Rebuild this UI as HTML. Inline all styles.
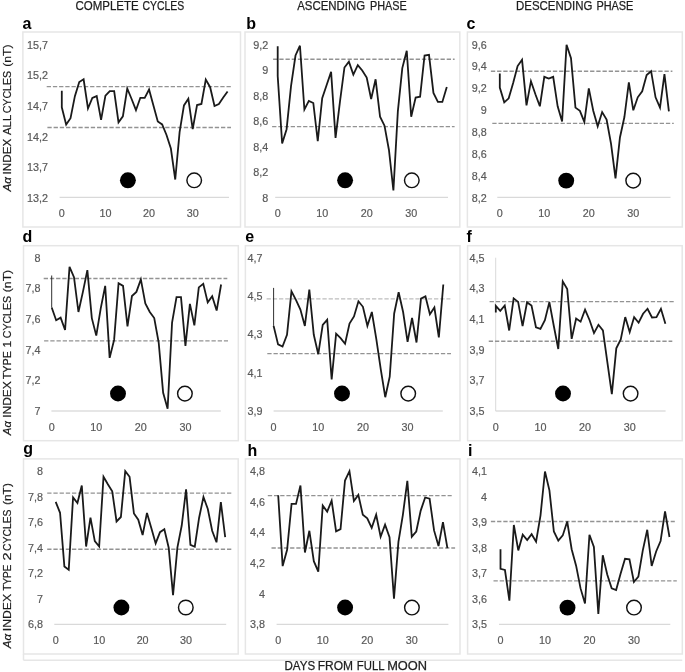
<!DOCTYPE html>
<html><head><meta charset="utf-8"><title>Aa index lunar cycles</title>
<style>
html,body{margin:0;padding:0;background:#fff;}
body{width:685px;height:672px;overflow:hidden;}
svg{display:block;filter:blur(0.3px);}
text{font-family:"Liberation Sans", sans-serif;}
.let{font-size:16px;font-weight:bold;fill:#000;}
.yl{font-size:11.6px;fill:#595959;stroke:#595959;stroke-width:0.2px;text-anchor:end;}
.xl{font-size:11.6px;fill:#595959;stroke:#595959;stroke-width:0.2px;text-anchor:middle;}
.ttl{font-size:12px;fill:#1e1e1e;stroke:#1e1e1e;stroke-width:0.25px;}
.yt{font-size:11.6px;fill:#1a1a1a;stroke:#1a1a1a;stroke-width:0.2px;}
</style></head><body>
<svg width="685" height="672" viewBox="0 0 685 672">
<rect width="685" height="672" fill="#fff"/>

<line x1="23.5" y1="660.2" x2="682.3" y2="660.2" stroke="#e6e6e6" stroke-width="1.5"/>
<line x1="23.5" y1="654" x2="23.5" y2="660.2" stroke="#e6e6e6" stroke-width="1.5"/>
<text x="75.5" y="10.3" class="ttl" textLength="63.2" lengthAdjust="spacingAndGlyphs">COMPLETE</text>
<text x="142.4" y="10.3" class="ttl" textLength="41.8" lengthAdjust="spacingAndGlyphs">CYCLES</text>
<text x="297.2" y="10.3" class="ttl" textLength="67.9" lengthAdjust="spacingAndGlyphs">ASCENDING</text>
<text x="369.9" y="10.3" class="ttl" textLength="36.8" lengthAdjust="spacingAndGlyphs">PHASE</text>
<text x="516" y="10.3" class="ttl" textLength="76.35" lengthAdjust="spacingAndGlyphs">DESCENDING</text>
<text x="596.4" y="10.3" class="ttl" textLength="37" lengthAdjust="spacingAndGlyphs">PHASE</text>
<rect x="22.9" y="32" width="217.6" height="195" fill="#fff" stroke="#e6e6e6" stroke-width="1.5"/>
<text x="22.6" y="28.6" class="let">a</text>
<text transform="translate(48,48.5) scale(0.93,1)" class="yl">15,7</text>
<text transform="translate(48,79.2) scale(0.93,1)" class="yl">15,2</text>
<text transform="translate(48,109.9) scale(0.93,1)" class="yl">14,7</text>
<text transform="translate(48,140.6) scale(0.93,1)" class="yl">14,2</text>
<text transform="translate(48,171.3) scale(0.93,1)" class="yl">13,7</text>
<text transform="translate(48,202) scale(0.93,1)" class="yl">13,2</text>
<line x1="59.6" y1="197.4" x2="229" y2="197.4" stroke="#d9d9d9" stroke-width="1.2"/>
<text transform="translate(61.8,217.4) scale(0.93,1)" class="xl">0</text>
<text transform="translate(105.43,217.4) scale(0.93,1)" class="xl">10</text>
<text transform="translate(149.06,217.4) scale(0.93,1)" class="xl">20</text>
<text transform="translate(192.69,217.4) scale(0.93,1)" class="xl">30</text>
<line x1="46.7" y1="86.6" x2="231" y2="86.6" stroke="#939393" stroke-width="1.35" stroke-dasharray="4.3 1.9"/>
<line x1="47.4" y1="127.5" x2="231" y2="127.5" stroke="#939393" stroke-width="1.35" stroke-dasharray="4.3 1.9"/>
<polyline points="61.8,90.8 61.8,107.3 66.16,124.6 70.53,118.2 74.89,96.2 79.25,82 83.61,79.3 87.98,108.5 92.34,98 96.7,96.1 101.07,119.8 105.43,95.7 109.79,91.1 114.16,91.1 118.52,122.4 122.88,116.4 127.25,88.5 131.61,99 135.97,110.2 140.33,97.8 144.7,97.8 149.06,89.5 153.42,105.5 157.79,121.5 162.15,124.4 166.51,135 170.88,148.5 175.24,179.5 179.6,132.1 183.96,105.4 188.33,98.8 192.69,129.2 197.05,105 201.42,104 205.78,79.5 210.14,87.2 214.5,106 218.87,104 223.23,97.5 227.59,91.5" fill="none" stroke="#1a1a1a" stroke-width="1.8" stroke-linejoin="miter" stroke-miterlimit="4"/>
<circle cx="127.9" cy="180.3" r="7.95" fill="#000"/>
<circle cx="194.2" cy="180.3" r="7.3" fill="#fff" stroke="#111" stroke-width="1.45"/>
<rect x="245" y="32" width="214.8" height="195" fill="#fff" stroke="#e6e6e6" stroke-width="1.5"/>
<text x="246.2" y="28.7" class="let">b</text>
<text transform="translate(268.3,48.5) scale(0.93,1)" class="yl">9,2</text>
<text transform="translate(268.3,74.08) scale(0.93,1)" class="yl">9</text>
<text transform="translate(268.3,99.67) scale(0.93,1)" class="yl">8,8</text>
<text transform="translate(268.3,125.25) scale(0.93,1)" class="yl">8,6</text>
<text transform="translate(268.3,150.83) scale(0.93,1)" class="yl">8,4</text>
<text transform="translate(268.3,176.42) scale(0.93,1)" class="yl">8,2</text>
<text transform="translate(268.3,202) scale(0.93,1)" class="yl">8</text>
<line x1="275.2" y1="197.4" x2="448" y2="197.4" stroke="#d9d9d9" stroke-width="1.2"/>
<text transform="translate(277.7,217.4) scale(0.93,1)" class="xl">0</text>
<text transform="translate(322.2,217.4) scale(0.93,1)" class="xl">10</text>
<text transform="translate(366.7,217.4) scale(0.93,1)" class="xl">20</text>
<text transform="translate(411.2,217.4) scale(0.93,1)" class="xl">30</text>
<line x1="273.1" y1="59.2" x2="454.6" y2="59.2" stroke="#939393" stroke-width="1.35" stroke-dasharray="4.3 1.9"/>
<line x1="272.1" y1="126.6" x2="454.6" y2="126.6" stroke="#939393" stroke-width="1.35" stroke-dasharray="4.3 1.9"/>
<polyline points="277.7,46.2 277.7,76 282.15,143.4 286.6,129.2 291.05,85.8 295.5,55.5 299.95,45.7 304.4,109.5 308.85,100.9 313.3,103 317.75,141.1 322.2,98.1 326.65,85 331.1,71.9 335.55,137.9 340,101.4 344.45,67.5 348.9,61.6 353.35,74.6 357.8,65.2 362.25,70.5 366.7,77.6 371.15,99 375.6,79.3 380.05,116.7 384.5,125.7 388.95,150 393.4,190.5 397.85,111.4 402.3,68.1 406.75,50.7 411.2,116.7 415.65,97.6 420.1,96.7 424.55,55.5 429,54.8 433.45,92.9 437.9,101.9 442.35,101.9 446.8,87.1" fill="none" stroke="#1a1a1a" stroke-width="1.8" stroke-linejoin="miter" stroke-miterlimit="4"/>
<circle cx="345.1" cy="180.3" r="7.95" fill="#000"/>
<circle cx="411.8" cy="180.3" r="7.3" fill="#fff" stroke="#111" stroke-width="1.45"/>
<rect x="467.4" y="32" width="214.9" height="195" fill="#fff" stroke="#e6e6e6" stroke-width="1.5"/>
<text x="466.6" y="28.7" class="let">c</text>
<text transform="translate(486.8,48.5) scale(0.93,1)" class="yl">9,6</text>
<text transform="translate(486.8,70.43) scale(0.93,1)" class="yl">9,4</text>
<text transform="translate(486.8,92.36) scale(0.93,1)" class="yl">9,2</text>
<text transform="translate(486.8,114.29) scale(0.93,1)" class="yl">9</text>
<text transform="translate(486.8,136.21) scale(0.93,1)" class="yl">8,8</text>
<text transform="translate(486.8,158.14) scale(0.93,1)" class="yl">8,6</text>
<text transform="translate(486.8,180.07) scale(0.93,1)" class="yl">8,4</text>
<text transform="translate(486.8,202) scale(0.93,1)" class="yl">8,2</text>
<line x1="497.3" y1="197.4" x2="670.5" y2="197.4" stroke="#d9d9d9" stroke-width="1.2"/>
<text transform="translate(499.8,217.4) scale(0.93,1)" class="xl">0</text>
<text transform="translate(544.3,217.4) scale(0.93,1)" class="xl">10</text>
<text transform="translate(588.8,217.4) scale(0.93,1)" class="xl">20</text>
<text transform="translate(633.3,217.4) scale(0.93,1)" class="xl">30</text>
<line x1="490.9" y1="71.25" x2="672.4" y2="71.25" stroke="#939393" stroke-width="1.35" stroke-dasharray="4.3 1.9"/>
<line x1="492.3" y1="123.3" x2="673.75" y2="123.3" stroke="#939393" stroke-width="1.35" stroke-dasharray="4.3 1.9"/>
<polyline points="499.8,73.5 499.8,87.5 504.25,102.3 508.7,98.3 513.15,82.9 517.6,66.1 522.05,59.8 526.5,105.4 530.95,81.2 535.4,94.2 539.85,106.3 544.3,76.8 548.75,78.6 553.2,76.8 557.65,106.3 562.1,121.4 566.55,44.7 571,58.1 575.45,107.6 579.9,110.9 584.35,121.9 588.8,88.4 593.25,110.7 597.7,126.3 602.15,112.1 606.6,119.6 611.05,143.8 615.5,178.3 619.95,137.5 624.4,117 628.85,82.4 633.3,110.3 637.75,97.3 642.2,91.3 646.65,75 651.1,71.2 655.55,97.3 660,107.6 664.45,74.1 668.9,111.4" fill="none" stroke="#1a1a1a" stroke-width="1.8" stroke-linejoin="miter" stroke-miterlimit="4"/>
<circle cx="566.2" cy="180.6" r="7.95" fill="#000"/>
<circle cx="633.2" cy="180.6" r="7.3" fill="#fff" stroke="#111" stroke-width="1.45"/>
<rect x="23.5" y="245.7" width="214.8" height="195" fill="#fff" stroke="#e6e6e6" stroke-width="1.5"/>
<text x="22.6" y="242" class="let">d</text>
<text transform="translate(40.5,261.7) scale(0.93,1)" class="yl">8</text>
<text transform="translate(40.5,292.32) scale(0.93,1)" class="yl">7,8</text>
<text transform="translate(40.5,322.94) scale(0.93,1)" class="yl">7,6</text>
<text transform="translate(40.5,353.56) scale(0.93,1)" class="yl">7,4</text>
<text transform="translate(40.5,384.18) scale(0.93,1)" class="yl">7,2</text>
<text transform="translate(40.5,414.8) scale(0.93,1)" class="yl">7</text>
<line x1="51.4" y1="411" x2="220.8" y2="411" stroke="#e6e6e6" stroke-width="2"/>
<text transform="translate(51.7,431) scale(0.93,1)" class="xl">0</text>
<text transform="translate(96.28,431) scale(0.93,1)" class="xl">10</text>
<text transform="translate(140.86,431) scale(0.93,1)" class="xl">20</text>
<text transform="translate(185.44,431) scale(0.93,1)" class="xl">30</text>
<line x1="43.7" y1="278.5" x2="227.3" y2="278.5" stroke="#939393" stroke-width="1.35" stroke-dasharray="4.3 1.9"/>
<line x1="44.1" y1="340.9" x2="228" y2="340.9" stroke="#939393" stroke-width="1.35" stroke-dasharray="4.3 1.9"/>
<line x1="51.7" y1="275.5" x2="51.7" y2="307.5" stroke="#1a1a1a" stroke-width="0.9"/>
<polyline points="51.7,307.5 56.16,320.2 60.62,317.6 65.07,330 69.53,266.9 73.99,277.2 78.45,312 82.91,291.9 87.36,270.1 91.82,318.1 96.28,335.6 100.74,308.3 105.2,285.9 109.65,357.9 114.11,339.9 118.57,283.2 123.03,285.9 127.49,326.3 131.94,296 136.4,291.9 140.86,279.4 145.32,303.5 149.78,312 154.23,318 158.69,342.5 163.15,392.8 167.61,408.8 172.07,322.5 176.52,297.2 180.98,297.2 185.44,345.9 189.9,303.9 194.36,325.4 198.81,287.4 203.27,283.8 207.73,302.4 212.19,296.3 216.65,310.6 221.1,284.5" fill="none" stroke="#1a1a1a" stroke-width="1.8" stroke-linejoin="miter" stroke-miterlimit="4"/>
<circle cx="118" cy="393.5" r="7.95" fill="#000"/>
<circle cx="184.9" cy="393.6" r="7.3" fill="#fff" stroke="#111" stroke-width="1.45"/>
<rect x="245.4" y="245.7" width="214.6" height="195" fill="#fff" stroke="#e6e6e6" stroke-width="1.5"/>
<text x="245.2" y="242" class="let">e</text>
<text transform="translate(262.4,261.7) scale(0.93,1)" class="yl">4,7</text>
<text transform="translate(262.4,299.98) scale(0.93,1)" class="yl">4,5</text>
<text transform="translate(262.4,338.25) scale(0.93,1)" class="yl">4,3</text>
<text transform="translate(262.4,376.52) scale(0.93,1)" class="yl">4,1</text>
<text transform="translate(262.4,414.8) scale(0.93,1)" class="yl">3,9</text>
<line x1="273.6" y1="411" x2="442.8" y2="411" stroke="#e6e6e6" stroke-width="2"/>
<text transform="translate(273.6,431) scale(0.93,1)" class="xl">0</text>
<text transform="translate(318.26,431) scale(0.93,1)" class="xl">10</text>
<text transform="translate(362.92,431) scale(0.93,1)" class="xl">20</text>
<text transform="translate(407.58,431) scale(0.93,1)" class="xl">30</text>
<line x1="266.6" y1="298.9" x2="450.4" y2="298.9" stroke="#bdbdbd" stroke-width="1.35" stroke-dasharray="4.3 1.9"/>
<line x1="267.3" y1="353.6" x2="451" y2="353.6" stroke="#939393" stroke-width="1.35" stroke-dasharray="4.3 1.9"/>
<line x1="273.6" y1="287.9" x2="273.6" y2="325.9" stroke="#1a1a1a" stroke-width="0.9"/>
<polyline points="273.6,325.9 278.07,344.4 282.53,346.6 287,334.8 291.46,291.3 295.93,299.8 300.4,309.6 304.86,325.9 309.33,289.5 313.79,334.8 318.26,354.2 322.73,324.8 327.19,319.8 331.66,379.5 336.12,333.7 340.59,338.2 345.06,343.7 349.52,323.6 353.99,316.4 358.45,301.3 362.92,306.8 367.39,325.8 371.85,312 376.32,339.2 380.78,369.3 385.25,397.2 389.72,376.7 394.18,313.5 398.65,292.3 403.11,312 407.58,341.9 412.05,318 416.51,342.5 420.98,298.6 425.44,296.3 429.91,314.2 434.38,307.5 438.84,337.4 443.31,284.5" fill="none" stroke="#1a1a1a" stroke-width="1.8" stroke-linejoin="miter" stroke-miterlimit="4"/>
<circle cx="342" cy="393.5" r="7.95" fill="#000"/>
<circle cx="408.2" cy="393.6" r="7.3" fill="#fff" stroke="#111" stroke-width="1.45"/>
<rect x="467.6" y="245.7" width="214.6" height="195" fill="#fff" stroke="#e6e6e6" stroke-width="1.5"/>
<text x="466.6" y="242" class="let">f</text>
<text transform="translate(484.6,261.9) scale(0.93,1)" class="yl">4,5</text>
<text transform="translate(484.6,292.48) scale(0.93,1)" class="yl">4,3</text>
<text transform="translate(484.6,323.06) scale(0.93,1)" class="yl">4,1</text>
<text transform="translate(484.6,353.64) scale(0.93,1)" class="yl">3,9</text>
<text transform="translate(484.6,384.22) scale(0.93,1)" class="yl">3,7</text>
<text transform="translate(484.6,414.8) scale(0.93,1)" class="yl">3,5</text>
<line x1="495.6" y1="411" x2="665.6" y2="411" stroke="#e6e6e6" stroke-width="2"/>
<line x1="495.7" y1="257.7" x2="495.7" y2="411" stroke="#d9d9d9" stroke-width="1"/>
<text transform="translate(495.8,431) scale(0.93,1)" class="xl">0</text>
<text transform="translate(540.43,431) scale(0.93,1)" class="xl">10</text>
<text transform="translate(585.06,431) scale(0.93,1)" class="xl">20</text>
<text transform="translate(629.69,431) scale(0.93,1)" class="xl">30</text>
<line x1="489.6" y1="301.6" x2="673.7" y2="301.6" stroke="#939393" stroke-width="1.35" stroke-dasharray="4.3 1.9"/>
<line x1="488.75" y1="341.2" x2="672.3" y2="341.2" stroke="#939393" stroke-width="1.35" stroke-dasharray="4.3 1.9"/>
<polyline points="495.8,312.6 495.8,305.9 500.26,310.8 504.73,305.5 509.19,330.5 513.65,298.4 518.12,301.9 522.58,326 527.04,302.4 531.5,305.5 535.97,327.3 540.43,328.9 544.89,320.2 549.36,302.1 553.82,326 558.28,349 562.75,281.4 567.21,289 571.67,338.9 576.13,318.5 580.6,321.7 585.06,309.6 589.52,320 593.99,333.1 598.45,324.8 602.91,330.4 607.38,362.3 611.84,394.2 616.3,348.3 620.76,339.4 625.23,317.1 629.69,332.1 634.15,317.1 638.62,322.7 643.08,313.75 647.54,308.75 652,317.5 656.47,317.1 660.93,308.75 665.39,323.75" fill="none" stroke="#1a1a1a" stroke-width="1.8" stroke-linejoin="miter" stroke-miterlimit="4"/>
<circle cx="563" cy="393.5" r="7.95" fill="#000"/>
<circle cx="630.6" cy="393.6" r="7.3" fill="#fff" stroke="#111" stroke-width="1.45"/>
<rect x="23.5" y="458.9" width="214.7" height="195.1" fill="#fff" stroke="#e6e6e6" stroke-width="1.5"/>
<text x="23.3" y="454.4" class="let">g</text>
<text transform="translate(43,475.1) scale(0.93,1)" class="yl">8</text>
<text transform="translate(43,500.6) scale(0.93,1)" class="yl">7,8</text>
<text transform="translate(43,526.1) scale(0.93,1)" class="yl">7,6</text>
<text transform="translate(43,551.6) scale(0.93,1)" class="yl">7,4</text>
<text transform="translate(43,577.1) scale(0.93,1)" class="yl">7,2</text>
<text transform="translate(43,602.6) scale(0.93,1)" class="yl">7</text>
<text transform="translate(43,628.1) scale(0.93,1)" class="yl">6,8</text>
<line x1="54.3" y1="624.3" x2="226.2" y2="624.3" stroke="#d9d9d9" stroke-width="1.2"/>
<text transform="translate(55.7,644.3) scale(0.93,1)" class="xl">0</text>
<text transform="translate(99.16,644.3) scale(0.93,1)" class="xl">10</text>
<text transform="translate(142.62,644.3) scale(0.93,1)" class="xl">20</text>
<text transform="translate(186.08,644.3) scale(0.93,1)" class="xl">30</text>
<line x1="47.2" y1="493.1" x2="231.3" y2="493.1" stroke="#939393" stroke-width="1.35" stroke-dasharray="4.3 1.9"/>
<line x1="47.2" y1="549.2" x2="231.3" y2="549.2" stroke="#939393" stroke-width="1.35" stroke-dasharray="4.3 1.9"/>
<polyline points="55.7,501.8 60.05,512.8 64.39,566.5 68.74,569.7 73.08,497.4 77.43,503 81.78,485.5 86.12,546.5 90.47,517.7 94.81,541.1 99.16,546.5 103.51,476.8 107.85,484.3 112.2,491.2 116.54,521.5 120.89,517 125.24,471.2 129.58,476.8 133.93,513.5 138.27,519.7 142.62,535.1 146.97,512.9 151.31,528 155.66,543.4 160,532.2 164.35,529.3 168.7,547.7 173.04,595.1 177.39,547.7 181.73,525.5 186.08,489.3 190.43,544.8 194.77,546.7 199.12,517.7 203.46,497 207.81,509 212.16,530.7 216.5,542.3 220.85,502.2 225.19,537.1" fill="none" stroke="#1a1a1a" stroke-width="1.8" stroke-linejoin="miter" stroke-miterlimit="4"/>
<circle cx="121.4" cy="607.5" r="7.95" fill="#000"/>
<circle cx="185.8" cy="607.5" r="7.3" fill="#fff" stroke="#111" stroke-width="1.45"/>
<rect x="245.4" y="458.9" width="214.6" height="195.1" fill="#fff" stroke="#e6e6e6" stroke-width="1.5"/>
<text x="247.4" y="455.5" class="let">h</text>
<text transform="translate(265,475.3) scale(0.93,1)" class="yl">4,8</text>
<text transform="translate(265,505.86) scale(0.93,1)" class="yl">4,6</text>
<text transform="translate(265,536.42) scale(0.93,1)" class="yl">4,4</text>
<text transform="translate(265,566.98) scale(0.93,1)" class="yl">4,2</text>
<text transform="translate(265,597.54) scale(0.93,1)" class="yl">4</text>
<text transform="translate(265,628.1) scale(0.93,1)" class="yl">3,8</text>
<line x1="276.6" y1="624.3" x2="448.4" y2="624.3" stroke="#d9d9d9" stroke-width="1.2"/>
<text transform="translate(278.2,644.3) scale(0.93,1)" class="xl">0</text>
<text transform="translate(322.73,644.3) scale(0.93,1)" class="xl">10</text>
<text transform="translate(367.26,644.3) scale(0.93,1)" class="xl">20</text>
<text transform="translate(411.79,644.3) scale(0.93,1)" class="xl">30</text>
<line x1="267.8" y1="495.6" x2="451.7" y2="495.6" stroke="#939393" stroke-width="1.35" stroke-dasharray="4.3 1.9"/>
<line x1="271.5" y1="548" x2="455.1" y2="548" stroke="#939393" stroke-width="1.35" stroke-dasharray="4.3 1.9"/>
<polyline points="278.2,495.3 282.65,566.1 287.11,549.8 291.56,503.9 296.01,503.9 300.46,485.5 304.92,552.5 309.37,530.8 313.82,561.2 318.28,571.7 322.73,505.6 327.18,511.6 331.64,500.7 336.09,531.3 340.54,529.1 345,480.5 349.45,471.2 353.9,501 358.35,494.9 362.81,514.8 367.26,518.3 371.71,527.9 376.17,514.8 380.62,536.7 385.07,524.6 389.52,537.1 393.98,598.75 398.43,541.9 402.88,514.8 407.34,480.8 411.79,536.7 416.24,531.5 420.7,510.6 425.15,497.5 429.6,498.75 434.06,530.4 438.51,546 442.96,522.1 447.41,548.1" fill="none" stroke="#1a1a1a" stroke-width="1.8" stroke-linejoin="miter" stroke-miterlimit="4"/>
<circle cx="345.1" cy="607.5" r="7.95" fill="#000"/>
<circle cx="411.9" cy="607.6" r="7.3" fill="#fff" stroke="#111" stroke-width="1.45"/>
<rect x="467.6" y="458.9" width="214.7" height="195.1" fill="#fff" stroke="#e6e6e6" stroke-width="1.5"/>
<text x="468" y="455.5" class="let">i</text>
<text transform="translate(487,475.3) scale(0.93,1)" class="yl">4,1</text>
<text transform="translate(487,500.77) scale(0.93,1)" class="yl">4</text>
<text transform="translate(487,526.23) scale(0.93,1)" class="yl">3,9</text>
<text transform="translate(487,551.7) scale(0.93,1)" class="yl">3,8</text>
<text transform="translate(487,577.17) scale(0.93,1)" class="yl">3,7</text>
<text transform="translate(487,602.63) scale(0.93,1)" class="yl">3,6</text>
<text transform="translate(487,628.1) scale(0.93,1)" class="yl">3,5</text>
<line x1="499" y1="624.3" x2="670.3" y2="624.3" stroke="#d9d9d9" stroke-width="1.2"/>
<text transform="translate(500.5,644.3) scale(0.93,1)" class="xl">0</text>
<text transform="translate(544.97,644.3) scale(0.93,1)" class="xl">10</text>
<text transform="translate(589.44,644.3) scale(0.93,1)" class="xl">20</text>
<text transform="translate(633.91,644.3) scale(0.93,1)" class="xl">30</text>
<line x1="490.9" y1="521.5" x2="674.8" y2="521.5" stroke="#939393" stroke-width="1.35" stroke-dasharray="4.3 1.9"/>
<line x1="493.5" y1="580.9" x2="676.8" y2="580.9" stroke="#939393" stroke-width="1.35" stroke-dasharray="4.3 1.9"/>
<polyline points="500.5,549.2 500.5,568.9 504.95,570 509.39,600.7 513.84,525 518.29,550.4 522.74,534.7 527.18,540 531.63,534.2 536.08,541.6 540.52,515.3 544.97,471.5 549.42,490.4 553.86,531.5 558.31,540.7 562.76,535.4 567.21,521.5 571.65,549.2 576.1,565.7 580.55,588.4 584.99,603.5 589.44,534.7 593.89,547 598.33,614 602.78,555.3 607.23,574.5 611.67,588.3 616.12,590.1 620.57,573.8 625.02,558.8 629.46,559.3 633.91,582 638.36,576.7 642.8,550.4 647.25,529.8 651.7,566 656.14,551.5 660.59,541 665.04,511.3 669.49,537" fill="none" stroke="#1a1a1a" stroke-width="1.8" stroke-linejoin="miter" stroke-miterlimit="4"/>
<circle cx="567.5" cy="607.6" r="7.95" fill="#000"/>
<circle cx="634" cy="607.6" r="7.3" fill="#fff" stroke="#111" stroke-width="1.45"/>
<text x="284.5" y="670.2" class="ttl" textLength="30.6" lengthAdjust="spacingAndGlyphs">DAYS</text>
<text x="317.7" y="670.2" class="ttl" textLength="35.3" lengthAdjust="spacingAndGlyphs">FROM</text>
<text x="356.8" y="670.2" class="ttl" textLength="27.7" lengthAdjust="spacingAndGlyphs">FULL</text>
<text x="387.2" y="670.2" class="ttl" textLength="39.9" lengthAdjust="spacingAndGlyphs">MOON</text>
<text transform="translate(10.9,191.5) rotate(-90)" class="yt" font-style="italic" textLength="14.4" lengthAdjust="spacingAndGlyphs">A&#945;</text>
<text transform="translate(10.9,174.4) rotate(-90)" class="yt" textLength="35.7" lengthAdjust="spacingAndGlyphs">INDEX</text>
<text transform="translate(10.9,135) rotate(-90)" class="yt" textLength="20.2" lengthAdjust="spacingAndGlyphs">ALL</text>
<text transform="translate(10.9,113.3) rotate(-90)" class="yt" textLength="42.4" lengthAdjust="spacingAndGlyphs">CYCLES</text>
<text transform="translate(10.9,66.8) rotate(-90)" class="yt" textLength="22.4" lengthAdjust="spacingAndGlyphs">(nT)</text>
<text transform="translate(10.9,435.2) rotate(-90)" class="yt" font-style="italic" textLength="14.1" lengthAdjust="spacingAndGlyphs">A&#945;</text>
<text transform="translate(10.9,417.8) rotate(-90)" class="yt" textLength="36.45" lengthAdjust="spacingAndGlyphs">INDEX</text>
<text transform="translate(10.9,379.2) rotate(-90)" class="yt" textLength="28.1" lengthAdjust="spacingAndGlyphs">TYPE</text>
<text transform="translate(10.9,347.5) rotate(-90)" class="yt" textLength="6.7" lengthAdjust="spacingAndGlyphs">1</text>
<text transform="translate(10.9,338.2) rotate(-90)" class="yt" textLength="42.3" lengthAdjust="spacingAndGlyphs">CYCLES</text>
<text transform="translate(10.9,292.25) rotate(-90)" class="yt" textLength="22.45" lengthAdjust="spacingAndGlyphs">(nT)</text>
<text transform="translate(10.9,648.2) rotate(-90)" class="yt" font-style="italic" textLength="14.3" lengthAdjust="spacingAndGlyphs">A&#945;</text>
<text transform="translate(10.9,631.2) rotate(-90)" class="yt" textLength="37.3" lengthAdjust="spacingAndGlyphs">INDEX</text>
<text transform="translate(10.9,590.8) rotate(-90)" class="yt" textLength="26.3" lengthAdjust="spacingAndGlyphs">TYPE</text>
<text transform="translate(10.9,560.5) rotate(-90)" class="yt" textLength="8.1" lengthAdjust="spacingAndGlyphs">2</text>
<text transform="translate(10.9,551) rotate(-90)" class="yt" textLength="41.5" lengthAdjust="spacingAndGlyphs">CYCLES</text>
<text transform="translate(10.9,505) rotate(-90)" class="yt" textLength="21.9" lengthAdjust="spacingAndGlyphs">(nT)</text>
</svg>
</body></html>
